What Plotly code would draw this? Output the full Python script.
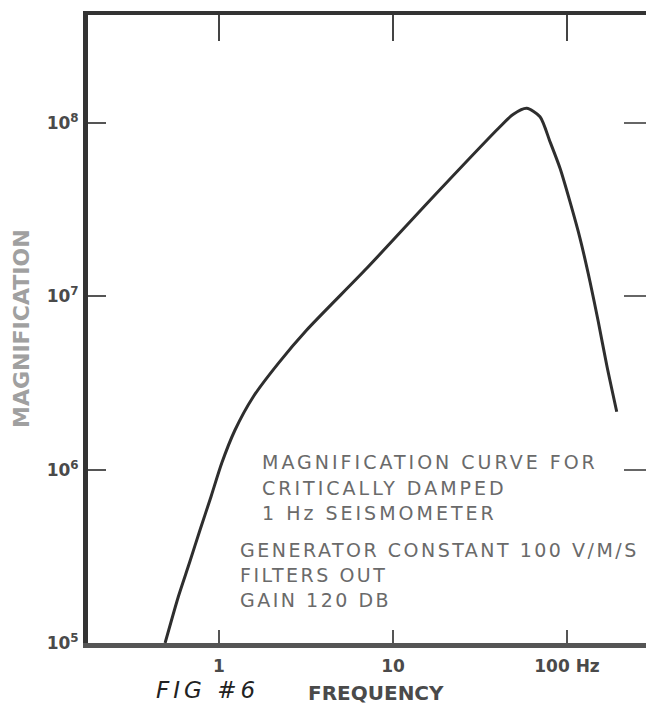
import plotly.graph_objects as go

# ---- data ----
freq_hz = [0.490, 0.5836, 0.6751, 0.7776, 0.8995, 1.036, 1.236, 1.574, 2.192, 3.192,
           7.063, 17.04, 41.19, 48.95, 58.67, 69.96, 79.87, 91.18, 104.0, 118.8, 135.6,
           151.3, 169.1, 193.1]
magnification = [1.00e5, 1.850e5, 2.884e5, 4.488e5, 6.986e5, 1.089e6, 1.695e6, 2.638e6,
                 4.111e6, 6.400e6, 1.453e7, 3.761e7, 9.532e7, 1.121e8, 1.217e8, 1.089e8,
                 7.810e7, 5.485e7, 3.520e7, 2.164e7, 1.216e7, 7.145e6, 4.020e6, 2.161e6]

x_tickvals = [1, 10, 100]
x_ticktext = ["1", "10", "100 Hz"]
y_tickvals = [1e5, 1e6, 1e7, 1e8]
y_ticktext = ["10<sup>5</sup>", "10<sup>6</sup>", "10<sup>7</sup>", "10<sup>8</sup>"]

note_lines_1 = ["MAGNIFICATION CURVE FOR", "CRITICALLY DAMPED", "1 Hz SEISMOMETER"]
note_lines_2 = ["GENERATOR CONSTANT 100 V/M/S", "FILTERS OUT", "GAIN 120 DB"]

# the page body adds an 8px margin; the figure is sized so the page fits the window
W, H = 638, 697
L, T, B = 80, 7, 635          # figure pixels
XR = [-0.7529, 2.454]
YR = [5.0, 8.624]

# helpers: page-pixel positions -> paper fractions
def px(xp):
    return (xp - 88) / (646 - 88)

def py(yp):
    return (643 - yp) / (643 - 15)

fig = go.Figure()
fig.add_trace(go.Scatter(x=freq_hz, y=magnification, mode="lines",
                         line=dict(color="#2e2e2e", width=3, shape="spline", smoothing=0.7),
                         hoverinfo="skip", showlegend=False))
# invisible trace carrying the mirrored (top/right) axes
fig.add_trace(go.Scatter(x=[freq_hz[0], freq_hz[-1]], y=[magnification[0], magnification[-1]],
                         xaxis="x2", yaxis="y2", mode="lines", line=dict(width=0),
                         opacity=0, hoverinfo="skip", showlegend=False))

tickfont = dict(family="DejaVu Sans", size=17, color="#4a4a4a", weight="bold")

fig.update_layout(
    width=W, height=H,
    margin=dict(l=L, r=0, t=T, b=H - B),
    paper_bgcolor="white", plot_bgcolor="white",
    showlegend=False,
    xaxis=dict(type="log", range=XR, showgrid=False, zeroline=False,
               showline=True, linewidth=5, linecolor="#555555",
               ticks="inside", ticklen=13, tickwidth=2, tickcolor="#555555",
               tickvals=x_tickvals, ticktext=x_ticktext, tickfont=tickfont,
               ticklabelstandoff=4),
    yaxis=dict(type="log", range=YR, showgrid=False, zeroline=False,
               showline=True, linewidth=5, linecolor="#333333",
               ticks="inside", ticklen=18, tickwidth=2, tickcolor="#555555",
               tickvals=y_tickvals, ticktext=y_ticktext, tickfont=tickfont,
               ticklabelstandoff=1),
    xaxis2=dict(type="log", range=XR, overlaying="x", side="top", anchor="y",
                showgrid=False, zeroline=False, showline=True, linewidth=4,
                linecolor="#333333", ticks="inside", ticklen=26, tickwidth=2,
                tickcolor="#444444", tickvals=x_tickvals, showticklabels=False),
    yaxis2=dict(type="log", range=YR, overlaying="y", side="right", anchor="x",
                showgrid=False, zeroline=False, showline=False,
                ticks="inside", ticklen=22, tickwidth=2, tickcolor="#666666",
                tickvals=y_tickvals, showticklabels=False),
)

ann = []
ann.append(dict(x=px(21), y=py(329), xref="paper", yref="paper", text="MAGNIFICATION",
                textangle=-90, showarrow=False, xanchor="center", yanchor="middle",
                font=dict(family="DejaVu Sans", size=22, color="#a0a0a0", weight="bold")))
ann.append(dict(x=px(376), y=py(693), xref="paper", yref="paper", text="FREQUENCY",
                showarrow=False, xanchor="center", yanchor="middle",
                font=dict(family="DejaVu Sans", size=20, color="#4a4a4a", weight="bold")))
ann.append(dict(x=px(207), y=py(690), xref="paper", yref="paper",
                text='<span style="letter-spacing:4px">FIG #6</span>',
                showarrow=False, xanchor="center", yanchor="middle",
                font=dict(family="DejaVu Sans", size=23, color="#222222", style="italic")))

note_font = dict(family="DejaVu Sans", size=19, color="#6a6a6a")
for i, line in enumerate(note_lines_1):
    ann.append(dict(x=px(260), y=py(462 + 25.5 * i), xref="paper", yref="paper",
                    xanchor="left", yanchor="middle", showarrow=False,
                    text='<span style="letter-spacing:3px">' + line + '</span>', font=note_font))
for i, line in enumerate(note_lines_2):
    ann.append(dict(x=px(238), y=py(550 + 25 * i), xref="paper", yref="paper",
                    xanchor="left", yanchor="middle", showarrow=False,
                    text='<span style="letter-spacing:2.5px">' + line + '</span>', font=note_font))
fig.update_layout(annotations=ann)

fig.write_html("out.html")
